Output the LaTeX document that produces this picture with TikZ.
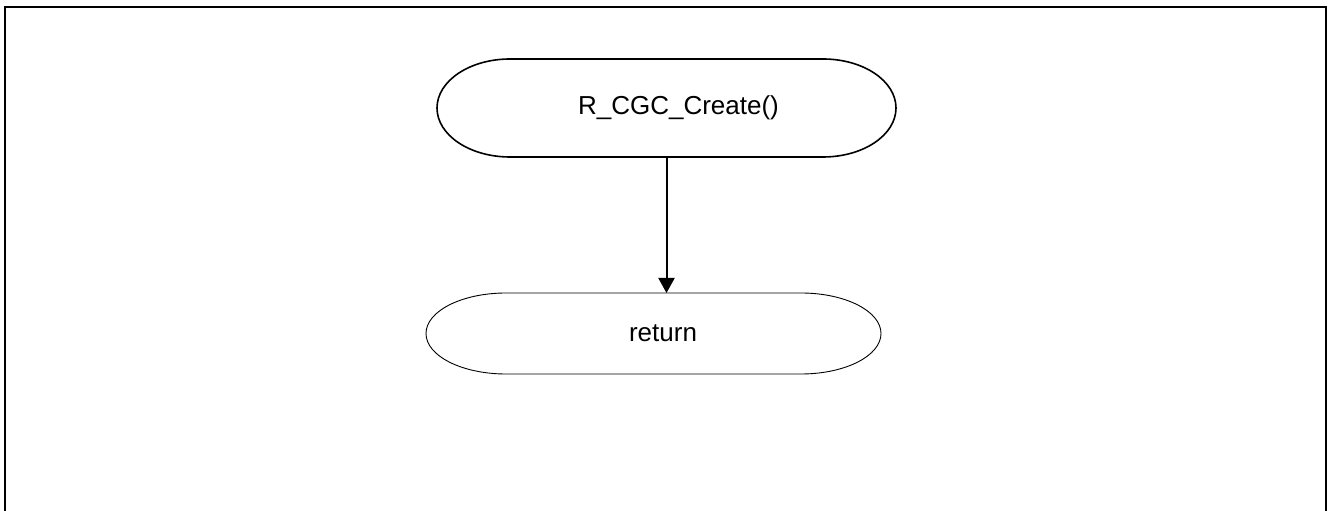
\documentclass[tikz,border=0pt]{standalone}
\usepackage{fontspec}
\setmainfont{Liberation Sans}
\usetikzlibrary{arrows.meta}
\begin{document}
\begin{tikzpicture}[x=1pt,y=1pt,
  term/.style={draw=none,inner sep=0pt,font=\fontsize{26}{30}\selectfont},
  flow/.style={line width=2pt,-{Triangle[length=15pt,width=16pt]}}]
\useasboundingbox (0,0) rectangle (1328,511);
\draw[line width=2pt] (5,-2) -- (5,503.5) -- (1325.5,503.5) -- (1325.5,-2);
% outline of start terminator (center 666.5,403; half width 229.5, half height 49)
\draw[line width=1.6pt] (510,452) -- (823,452)
  arc[start angle=90,end angle=-90,x radius=73pt,y radius=49pt]
  -- (510,354)
  arc[start angle=270,end angle=90,x radius=73pt,y radius=49pt] -- cycle;
\coordinate (startbot) at (666.5,354);
% outline of return terminator (center 653.5,177.5)
\draw[line width=0.9pt] (506,218) -- (801,218)
  arc[start angle=90,end angle=-90,x radius=80pt,y radius=40.5pt]
  -- (506,137)
  arc[start angle=270,end angle=90,x radius=80pt,y radius=40.5pt] -- cycle;
\coordinate (rettop) at (666.5,218);
\node[term] (start) at (678.5,403) {R\_CGC\_Create()};
\node[term] (ret) at (663,177.5) {return};
\draw[flow] (startbot) -- (rettop);
\end{tikzpicture}
\end{document}
